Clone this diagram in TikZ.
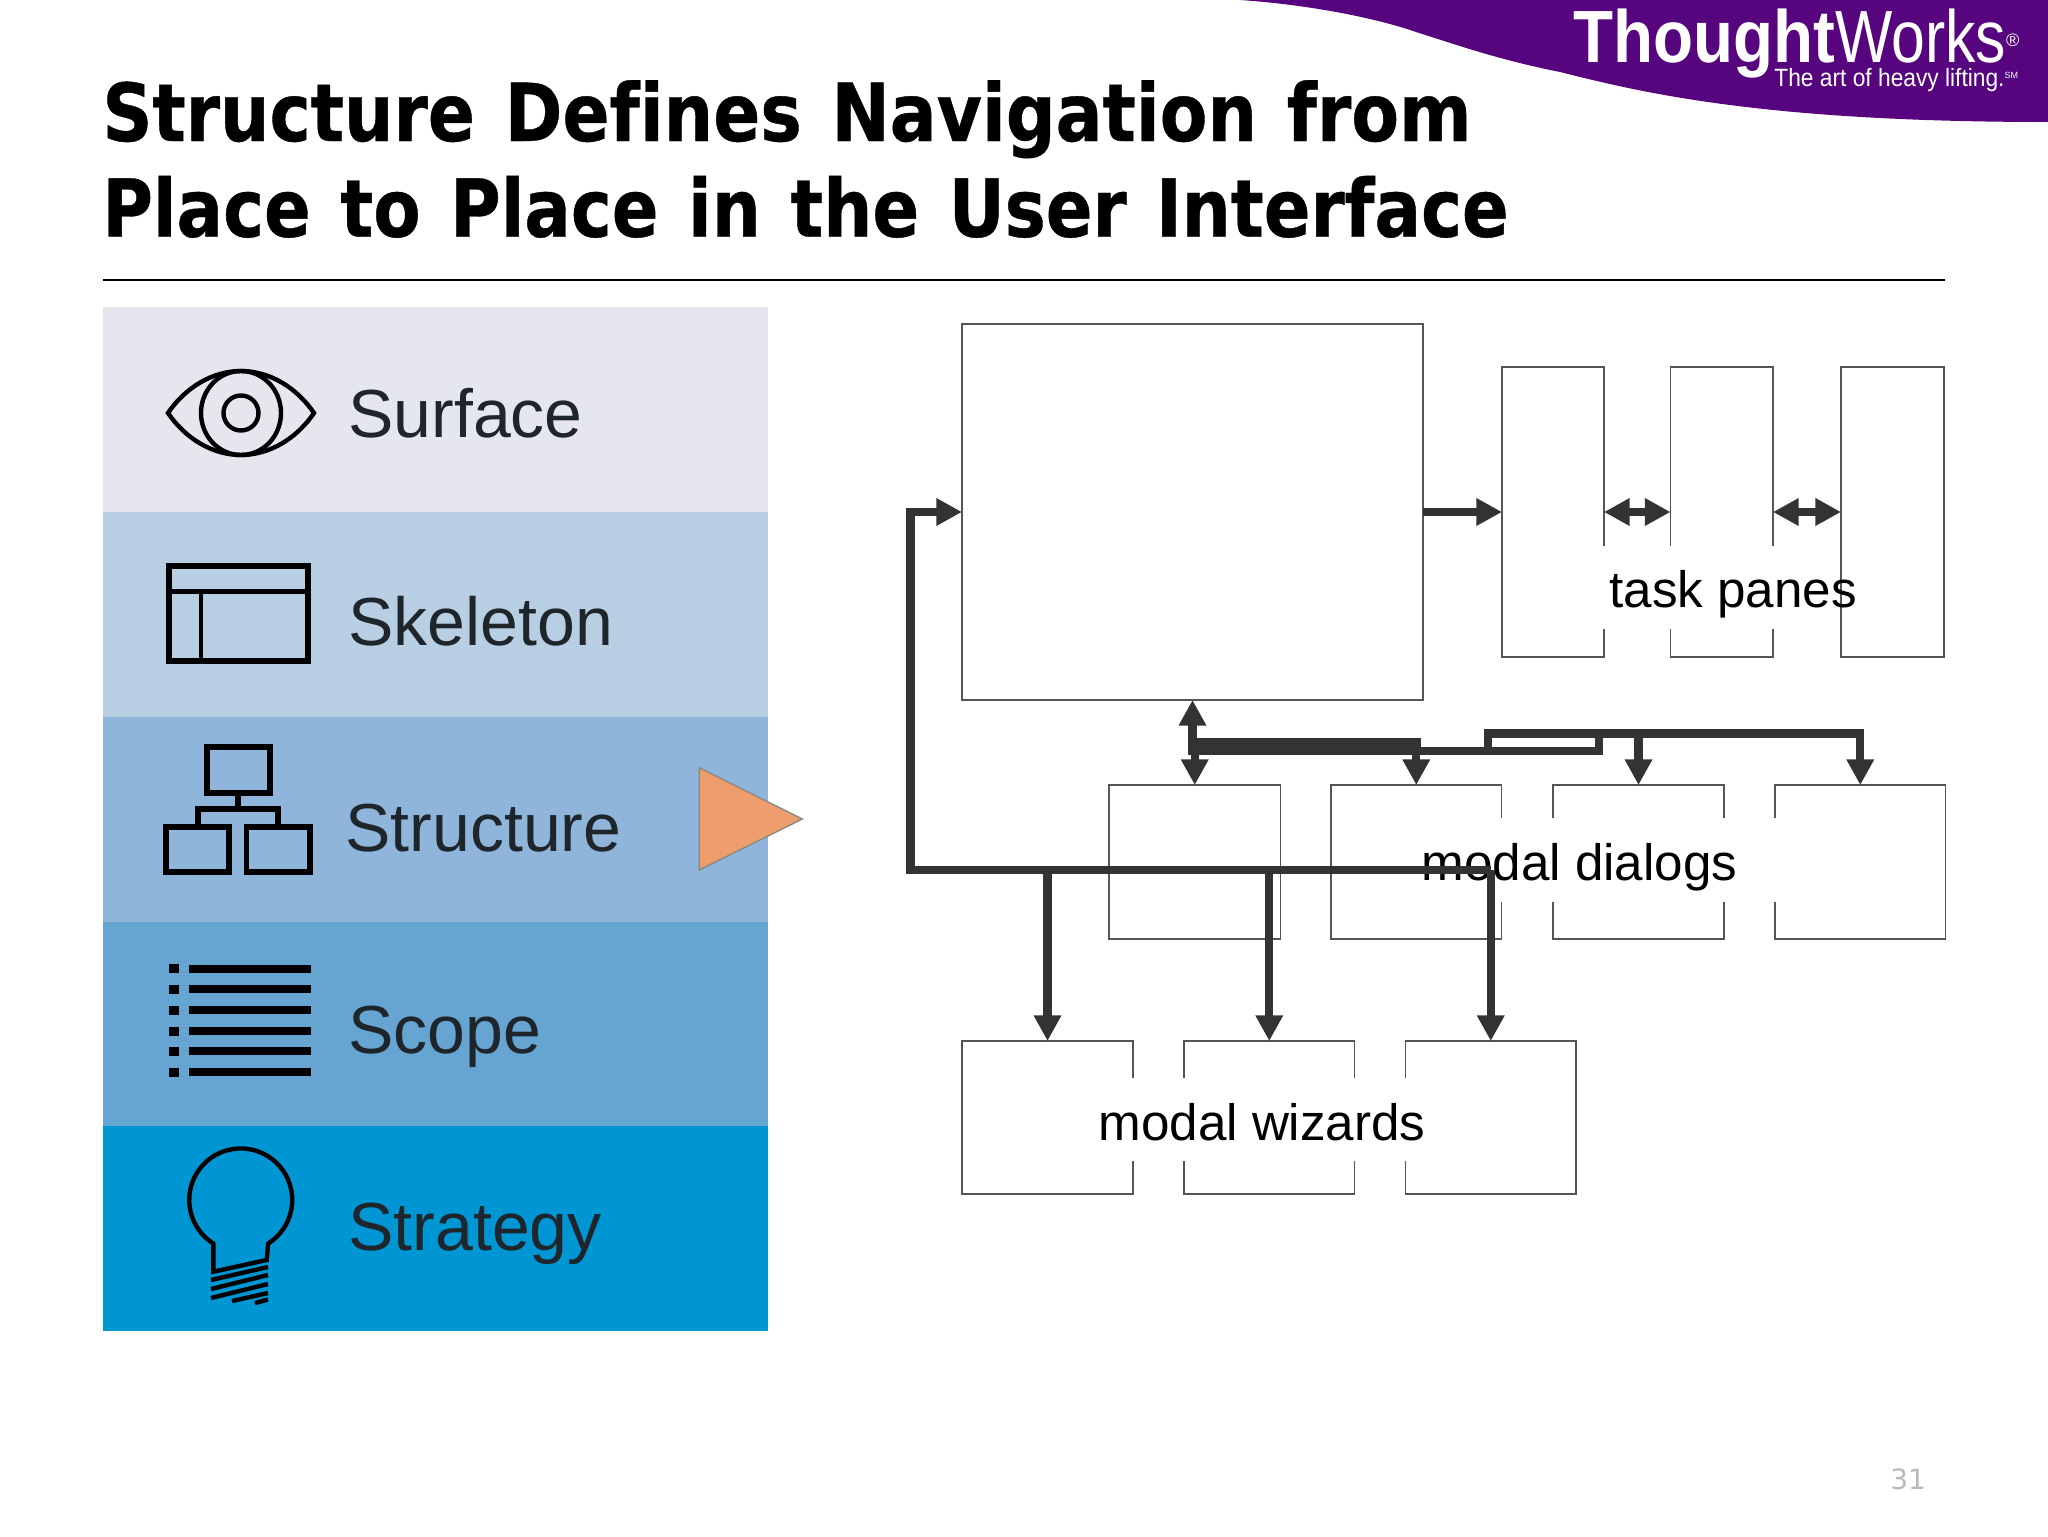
\documentclass[tikz,border=0pt]{standalone}
\usepackage{fontspec}
\setmainfont{Liberation Sans}
\newfontfamily\titlefont[FakeStretch=0.862,WordSpace=1.23,Ligatures=NoCommon,BoldFeatures={FakeBold=0.5}]{DejaVu Sans}
\newfontfamily\pagefont{DejaVu Sans}
\usetikzlibrary{arrows.meta}
\definecolor{layerA}{HTML}{E6E7EE}
\definecolor{layerB}{HTML}{B8CEE3}
\definecolor{layerC}{HTML}{8FB5DB}
\definecolor{layerD}{HTML}{66A4D1}
\definecolor{layerE}{HTML}{0095D3}
\definecolor{labelcol}{HTML}{1E262C}
\definecolor{arrowcol}{HTML}{333333}
\definecolor{boxcol}{HTML}{555555}
\definecolor{logocol}{HTML}{57047F}
\definecolor{markfill}{HTML}{EE9E6C}
\definecolor{markline}{HTML}{8A8A80}
\tikzset{
  x=0.5pt,y=-0.5pt,
  layerlabel/.style={anchor=base west,inner sep=0pt,text=labelcol,font=\fontsize{34}{34}\selectfont},
  wirebox/.style={draw=boxcol,line width=0.8pt,inner sep=0pt,outer sep=0pt},
  boxlabel/.style={anchor=base west,inner sep=0pt,text=black,font=\fontsize{25.6}{25.6}\selectfont},
  blank/.style={fill=white,draw=none},
  bighead/.tip={Triangle[length=12.8pt,width=13pt]},
  flow/.style={draw=arrowcol,line width=4.2pt,-bighead,line join=miter},
  bus/.style={draw=arrowcol,line width=4.2pt,line cap=butt,line join=miter},
  both/.style={draw=arrowcol,line width=4.2pt,bighead-bighead},
  icon/.style={draw=black,line width=2.9pt},
  iconthin/.style={draw=black,line width=2.2pt},
  titletext/.style={anchor=base west,inner sep=0pt,font=\titlefont\bfseries\fontsize{40}{40}\selectfont},
}
% name, left, top, right, bottom
\newcommand\wbox[5]{\node[wirebox,minimum width={(#4-#2)*0.5pt},minimum height={(#5-#3)*0.5pt}] (#1) at ({(#2+#4)/2},{(#3+#5)/2}) {};}
\begin{document}
\begin{tikzpicture}
\useasboundingbox (0,0) rectangle (2048,1536);
\fill[white] (0,0) rectangle (2048,1536);
% logo
\fill[logocol] (1240,0) .. controls (1300,4) and (1370,16) .. (1416,32)
  .. controls (1460,46) and (1500,60) .. (1560,72)
  .. controls (1640,92) and (1760,122) .. (2048,122) -- (2048,0) -- cycle;
\node[anchor=base west,inner sep=0pt,text=white,font=\fontsize{37}{37}\selectfont] (logo) at (1573,63)
  {\textbf{\scalebox{.885}[1]{Thought}}\scalebox{.82}[1]{Works}\raisebox{8.5pt}{\fontsize{9}{9}\selectfont ®}};
\node[anchor=base west,inner sep=0pt,text=white,font=\fontsize{12.5}{12.5}\selectfont] (tag) at (1774,87)
  {\scalebox{.91}[1]{The art of heavy lifting.}\raisebox{4pt}{\fontsize{4.5}{4.5}\selectfont SM}};
% title
\node[titletext] (t1) at (102,141) {\scalebox{1.0085}[1]{Structure Defines Navigation from}};
\node[titletext] (t2) at (102,236.7) {Place to Place in the User Interface};
\draw[black,line width=1pt] (103,279.5) -- (1945,279.5);
% layers
\fill[layerA] (102.5,307) rectangle (768,511.5);
\fill[layerB] (102.5,511.5) rectangle (768,717);
\fill[layerC] (102.5,717) rectangle (768,921.5);
\fill[layerD] (102.5,921.5) rectangle (768,1125.5);
\fill[layerE] (102.5,1125.5) rectangle (768,1331);
\node[layerlabel] (surface) at (348,437) {Surface};
\node[layerlabel] (skeleton) at (348,645) {Skeleton};
\node[layerlabel] (structure) at (345,851) {Structure};
\node[layerlabel] (scope) at (348,1053.5) {Scope};
\node[layerlabel] (strategy) at (348,1250.5) {Strategy};
% eye
\draw[iconthin] (168,413) .. controls (185,388) and (212,371) .. (241,371) .. controls (270,371) and (297,388) .. (314,413)
  .. controls (297,438) and (270,455) .. (241,455) .. controls (212,455) and (185,438) .. (168,413) -- cycle;
\draw[iconthin] (241,413) ellipse [x radius=40,y radius=42];
\draw[iconthin] (241,413) circle [radius=17.5];
% skeleton icon
\draw[icon] (168.7,565.7) rectangle (308,661);
\draw[iconthin,line width=2.4pt] (168.7,591.6) -- (308,591.6) (201,591.6) -- (201,661);
% structure icon
\draw[icon] (206.7,747) rectangle (270,792.6);
\draw[icon] (165.7,826.8) rectangle (229,872.3);
\draw[icon] (246.5,826.8) rectangle (310,872.3);
\draw[icon] (237.7,794) -- (237.7,809) (198,826) -- (198,809) -- (277.7,809) -- (277.7,826);
% scope icon
\foreach \yy in {968.7,989.3,1010,1031,1051,1072}{
  \fill[black] (169.3,\yy-4.5) rectangle (179,\yy+4.5);
  \fill[black] (188.7,\yy-4) rectangle (311.3,\yy+4);
}
% bulb
\draw[iconthin,line join=miter] (213.3,1271.7) -- (213.3,1243.5) arc[start angle=122.2,end angle=417.8,radius=51.5] -- (266.7,1260) -- cycle;
\draw[iconthin] (211,1280) -- (268,1267) (211,1289) -- (268,1275) (211,1298) -- (268,1284)
  (232,1301) -- (268,1293) (255,1303) -- (268,1299.5);
% triangle marker
\draw[fill=markfill,draw=markline,line width=0.7pt,line join=miter] (699.3,767.7) -- (802.3,819) -- (699.3,870) -- cycle;
% boxes
\wbox{main}{962}{324}{1423}{700}
\wbox{p1}{1502}{367}{1604}{657}
\wbox{p2}{1670.5}{367}{1773}{657}
\wbox{p3}{1841}{367}{1944}{657}
\wbox{d1}{1109}{785}{1280.5}{939}
\wbox{d2}{1331}{785}{1501.5}{939}
\wbox{d3}{1553}{785}{1724}{939}
\wbox{d4}{1775}{785}{1945.5}{939}
\wbox{w1}{962}{1041}{1133}{1194}
\wbox{w2}{1184}{1041}{1354.5}{1194}
\wbox{w3}{1405.5}{1041}{1576}{1194}
% blanks under the labels
\fill[blank] (1600,546) rectangle (1835,629);
\fill[blank] (1495,818) rectangle (1790,902);
\fill[blank] (1128,1078) rectangle (1412,1161);
\node[boxlabel] (tp) at (1609,607) {task panes};
\node[boxlabel] (md) at (1421,880.5) {modal dialogs};
\node[boxlabel] (mw) at (1098,1140) {modal wizards};
% connectors
\coordinate (loop) at (910.5,870);
\coordinate (busA) at (1192.5,742.5);
\coordinate (busB) at (1192.5,750.8);
\coordinate (busC) at (1488,733.3);
\draw[flow] (main.east) -- (p1.west);
\draw[both] (p1.east) -- (p2.west);
\draw[both] (p2.east) -- (p3.west);
\draw[flow] (loop) -- (main.west -| loop) -- (main.west);
\draw[bus] ([xshift=-2.1pt]loop) -- (w3.north |- loop);
\draw[flow] (w1.north |- loop) -- (w1.north);
\draw[flow] (w2.north |- loop) -- (w2.north);
\draw[flow] (w3.north |- loop) -- (w3.north);
\draw[flow] ([yshift=-2.1pt]busB) -- (main.south);
\draw[flow] (d1.north |- busB) -- (d1.north);
\draw[flow] (d2.north |- busA) -- (d2.north);
\draw[bus] (busA) -- (1420.7,742.5);
\draw[bus] (busB) -- (1599,750.8) -- (1599,733.3);
\draw[bus] (1488,755) -- (busC) -- (1864,733.3);
\draw[flow] (d3.north |- busC) -- (d3.north);
\draw[flow] (d4.north |- busC) -- (d4.north);
% page number
\node[anchor=base west,inner sep=0pt,text=black!27,font=\pagefont\fontsize{14}{14}\selectfont] (pg) at (1890,1489) {31};
\end{tikzpicture}
\end{document}
